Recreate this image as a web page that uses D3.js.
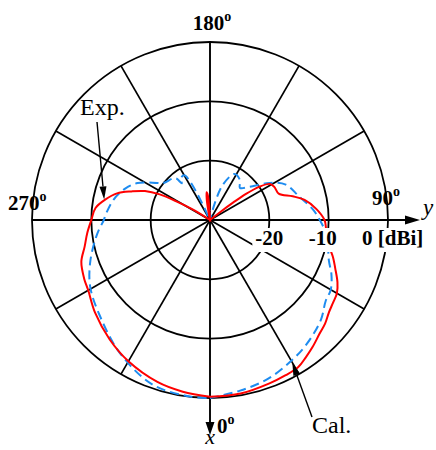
<!DOCTYPE html>
<html>
<head>
<meta charset="utf-8">
<script src="https://cdn.jsdelivr.net/npm/d3@7"></script>
<style>
  html, body { margin: 0; padding: 0; background: #fff; }
  svg { display: block; }
</style>
</head>
<body>
<svg id="chart" width="436" height="450"></svg>
<script>
// Azimuth radiation pattern, gain in dBi; 0° points along +x (down), 90° along +y (right)
const expAngle = [0, 10, 20, 26, 31, 35, 39, 44, 48, 52, 56, 60, 64, 69, 73, 77, 82, 86, 90,
  96, 102, 106, 111, 117, 121, 124, 126, 127, 128, 130, 180, 183, 185, 187, 189, 191, 193, 236,
  238, 241, 243, 246, 250, 254, 259, 264, 270, 276, 282, 288, 295, 300, 309, 320, 330, 342, 351, 360];
const expGain = [-0.2, -0.3, -0.7, -0.9, -1.1, -1.8, -2.5, -3.4, -3.9, -4.6, -5.0, -5.3, -6.1, -7.4, -8.3, -9.3, -10.0, -10.4, -10.7,
  -12.0, -13.7, -15.5, -17.6, -17.8, -18.2, -20.0, -22.5, -25.0, -28.0, -30, -30, -28.5, -25.8, -25.3, -26.5, -29, -30, -30,
  -27.0, -23.5, -20.5, -18.0, -15.9, -13.7, -12.0, -10.6, -10.0, -9.2, -8.4, -7.2, -6.6, -6.3, -5.1, -3.7, -2.5, -1.3, -0.7, -0.2];

const calAngle = [0, 10, 20, 30, 38, 48, 55, 60, 66, 71, 79, 85, 90, 96, 105, 115, 122, 130, 137,
  143, 152, 160, 164, 166, 177, 179, 181, 183, 204, 205, 206, 207.5, 210, 215, 217.5, 219, 222, 231.5,
  235, 243, 249.5, 258, 267, 270, 277, 288.5, 299, 311, 326, 341, 354, 360];
const calGain = [0.0, -0.8, -1.5, -2.6, -3.5, -4.85, -6.2, -6.5, -7.6, -8.8, -9.8, -10.6, -11.5, -12.6, -14.5, -15.9, -18.2, -21.3, -22.6,
  -21.6, -21.2, -23.7, -27.0, -30, -30, -28.5, -28.5, -30, -30, -28.0, -25.0, -22.5, -21.3, -21.4, -22.2, -21.0, -20.6, -20.0,
  -19.1, -16.3, -14.8, -13.4, -12.4, -12.1, -10.85, -8.76, -6.9, -5.4, -2.9, -0.6, -0.05, 0.0];

const gainMin = -30;
const ringTicks = [-20, -10, 0];
const ringTickLabels = ["-20", "-10", "0 [dBi]"];
const spokeAngles = d3.range(0, 360, 30);
const angleTicks = [180, 90, 270, 0];
const angleTickLabels = ["180", "90", "270", "0"];

const cx = 210, cy = 220, R = 178;
const serif = "'Liberation Serif', 'Times New Roman', serif";

const svg = d3.select("#chart");
const g = svg.append("g").attr("transform", `translate(${cx},${cy})`);

const r = d3.scaleLinear().domain([gainMin, 0]).range([0, R]).clamp(true);
// azimuth (deg) -> d3 radial angle (clockwise from 12 o'clock)
const toRad = deg => Math.PI - deg * Math.PI / 180;
const polar = (deg, radius) => [radius * Math.sin(toRad(deg)), -radius * Math.cos(toRad(deg))];

// grid rings
g.selectAll("circle.ring").data(ringTicks).join("circle")
  .attr("class", "ring")
  .attr("r", d => r(d))
  .attr("fill", "none").attr("stroke", "#000").attr("stroke-width", 1.8);

// radial spokes (the 0°/90°/180°/270° ones are replaced by the axes)
g.selectAll("line.spoke").data(spokeAngles.filter(a => a % 90 !== 0)).join("line")
  .attr("class", "spoke")
  .attr("x1", 0).attr("y1", 0)
  .attr("x2", d => polar(d, R)[0]).attr("y2", d => polar(d, R)[1])
  .attr("stroke", "#000").attr("stroke-width", 1.7);

// axes: x downward, y to the right, with arrow heads
const axisLen = { x: 215, y: 210 };
g.append("line").attr("x1", 0).attr("y1", -R).attr("x2", 0).attr("y2", axisLen.x - 10)
  .attr("stroke", "#000").attr("stroke-width", 1.9);
g.append("line").attr("x1", -R).attr("y1", 0).attr("x2", axisLen.y - 10).attr("y2", 0)
  .attr("stroke", "#000").attr("stroke-width", 1.9);
g.append("path").attr("d", `M${-4.5},${axisLen.x - 13}L${4.5},${axisLen.x - 13}L0,${axisLen.x}Z`).attr("fill", "#000");
g.append("path").attr("d", `M${axisLen.y - 15},${-4.5}L${axisLen.y - 15},${4.5}L${axisLen.y},0Z`).attr("fill", "#000");

// pattern curves
const line = d3.lineRadial()
  .angle(d => toRad(d[0]))
  .radius(d => r(d[1]))
  .curve(d3.curveCatmullRom.alpha(0.5));

const expData = expAngle.map((a, i) => [a, expGain[i]]);
const calData = calAngle.map((a, i) => [a, calGain[i]]);

g.append("path").datum(calData).attr("d", line)
  .attr("fill", "none").attr("stroke", "#1e8cf0").attr("stroke-width", 2)
  .attr("stroke-dasharray", "9,5");
g.append("path").datum(expData).attr("d", line)
  .attr("fill", "none").attr("stroke", "#ff0000").attr("stroke-width", 2);

// ring value labels on white boxes, just below the y axis
const ringLabelShift = [0, -6, -26];
const ringLabelG = g.selectAll("g.rlab").data(ringTicks).join("g").attr("class", "rlab");
ringLabelG.each(function (d, i) {
  const grp = d3.select(this);
  const t = grp.append("text")
    .attr("x", r(d) + ringLabelShift[i])
    .attr("y", 25)
    .attr("text-anchor", i === 2 ? "start" : "middle")
    .attr("font-family", serif).attr("font-weight", "bold").attr("font-size", 21)
    .text(ringTickLabels[i]);
  const b = t.node().getBBox();
  grp.insert("rect", "text")
    .attr("x", b.x - 3).attr("y", b.y + 2).attr("width", b.width + 6).attr("height", b.height)
    .attr("fill", "#fff");
});

// angle labels with raised degree mark
const anglePos = {
  180: { x: 2, y: -190, anchor: "middle" },
  90: { x: 162, y: -15, anchor: "start" },
  270: { x: -202, y: -10, anchor: "start" },
  0: { x: 7, y: 213, anchor: "start" }
};
angleTicks.forEach((a, i) => {
  const p = anglePos[a];
  const t = g.append("text")
    .attr("x", p.x).attr("y", p.y).attr("text-anchor", p.anchor)
    .attr("font-family", serif).attr("font-weight", "bold").attr("font-size", 21)
    .text(angleTickLabels[i]);
  t.append("tspan").attr("font-size", 14).attr("dy", -9).text("o");
});

// axis names
g.append("text").attr("x", 213).attr("y", -5)
  .attr("font-family", serif).attr("font-style", "italic").attr("font-size", 23).text("y");
g.append("text").attr("x", 0).attr("y", 224).attr("text-anchor", "middle")
  .attr("font-family", serif).attr("font-style", "italic").attr("font-size", 22).text("x");

// series annotations with leader arrows pointing at the curves
function leader(fromX, fromY, tip) {
  const [tx, ty] = tip;
  const dx = tx - fromX, dy = ty - fromY, len = Math.hypot(dx, dy);
  const ux = dx / len, uy = dy / len;
  const bx = tx - ux * 13, by = ty - uy * 13;
  g.append("line").attr("x1", fromX).attr("y1", fromY).attr("x2", bx).attr("y2", by)
    .attr("stroke", "#000").attr("stroke-width", 1.4);
  g.append("path")
    .attr("d", `M${bx - uy * 3.5},${by + ux * 3.5}L${bx + uy * 3.5},${by - ux * 3.5}L${tx},${ty}Z`)
    .attr("fill", "#000");
}
const expTipAngle = 259;
const expTipGain = expGain[expAngle.indexOf(259)];
leader(-113, -98, polar(expTipAngle, r(expTipGain) + 1));
g.append("text").attr("x", -130).attr("y", -105)
  .attr("font-family", serif).attr("font-size", 24).text("Exp.");

const calTipAngle = 30;
const calTipGain = calGain[calAngle.indexOf(30)];
leader(102, 197, polar(calTipAngle, r(calTipGain) + 2));
g.append("text").attr("x", 102).attr("y", 213)
  .attr("font-family", serif).attr("font-size", 24).text("Cal.");
</script>
</body>
</html>
